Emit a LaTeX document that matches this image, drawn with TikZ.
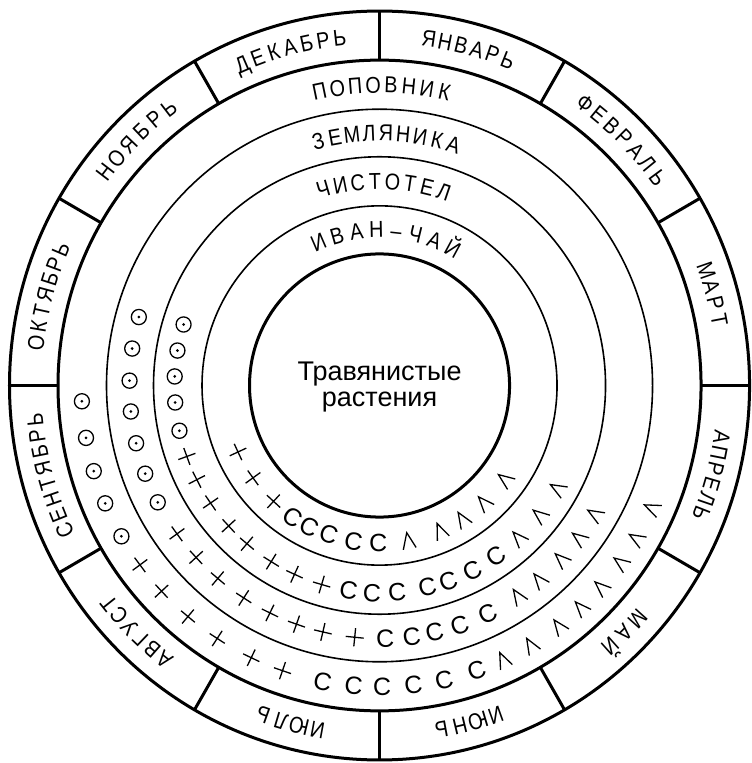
\documentclass[tikz,border=0pt]{standalone}
\usepackage{fontspec}
\setmainfont{Liberation Sans}

% letters of a word set one by one round the rings
\newcommand{\ringlabel}[6]{%
  \foreach \ch [count=\i] in {#6} {
    \pgfmathsetmacro{\ang}{#3+(#5+1)/2*#4-\i*#4}
    \node[lettr, rotate=\ang-90, xscale=0.86] (#1\i) at (\ang:#2) {\ch};
  }}

\begin{document}
\begin{tikzpicture}[x=1pt, y=1.012pt,
    thickline/.style={line width=3pt},
    ringline/.style={line width=1.6pt},
    symline/.style={line width=1.3pt},
    lettr/.style={font=\fontsize{23}{23}\selectfont, anchor=base, inner sep=0pt},
    csym/.style={font=\fontsize{25}{25}\selectfont, inner sep=0pt},
    midtext/.style={font=\fontsize{27}{27}\selectfont, anchor=base, inner sep=0pt}]
    \path[use as bounding box, fill=white] (-379.5,-373) rectangle (371.5,380.9);

    % Rings
    \draw[thickline] (0,0) circle (370);
    \draw[thickline] (0,0) circle (321.5);
    \foreach \r in {273,226,177.5}
        \draw[ringline] (0,0) circle (\r);
    \draw[thickline] (0,0) circle (130);

    % Month dividers
    \foreach \a in {0,30,...,330}
        \draw[thickline] (\a:321.5) -- (\a:370);

    % Months
    \ringlabel{jan}{338}{75}{2.7}{6}{Я,Н,В,А,Р,Ь}
    \ringlabel{feb}{338}{45}{2.85}{7}{Ф,Е,В,Р,А,Л,Ь}
    \ringlabel{mar}{338}{15}{2.75}{4}{М,А,Р,Т}
    \ringlabel{apr}{338}{-15}{2.6}{6}{А,П,Р,Е,Л,Ь}
    \ringlabel{may}{338}{-45}{3.2}{3}{М,А,Й}
    \ringlabel{jun}{338}{-75}{3.1}{4}{И,Ю,Н,Ь}
    \ringlabel{jul}{338}{-105}{3.1}{4}{И,Ю,Л,Ь}
    \ringlabel{aug}{338}{-135}{2.6}{6}{А,В,Г,У,С,Т}
    \ringlabel{sep}{338}{-165}{2.7}{8}{С,Е,Н,Т,Я,Б,Р,Ь}
    \ringlabel{oct}{338}{165}{2.65}{7}{О,К,Т,Я,Б,Р,Ь}
    \ringlabel{nov}{338}{135}{3.0}{6}{Н,О,Я,Б,Р,Ь}
    \ringlabel{dec}{338}{105}{2.8}{7}{Д,Е,К,А,Б,Р,Ь}

    % Plants
    \ringlabel{pop}{289}{89.5}{3.47}{8}{П,О,П,О,В,Н,И,К}
    \ringlabel{zem}{241.5}{88.5}{3.94}{9}{З,Е,М,Л,Я,Н,И,К,А}
    \ringlabel{chi}{194}{88.8}{4.97}{8}{Ч,И,С,Т,О,Т,Е,Л}
    \ringlabel{iva}{146}{87.5}{7.4}{8}{И,В,А,Н,–,Ч,А,Й}

    % Centre
    \node[midtext] (herb1) at (0,5.4) {Травянистые};
    \node[midtext] (herb2) at (0,-21.2) {растения};

    % Ring A
    \foreach \a in {183,190,196.5,203,210} {
        \draw[symline] (\a:298) circle (7.5);
        \fill (\a:298) circle (1.5);
    }
    \foreach \a in {216.5,223,230,237,244.5,251}
        \draw[symline, shift={(\a:298)}, rotate=\a+90] (-9,0) -- (9,0) (0,-9) -- (0,9);
    \foreach \a in {259,265,270.5,276.5,282.5,289}
        \node[csym, rotate=\a+90] at (\a:298) {С};
    \foreach \a in {294.5,300.5,307,312.5,318,324,329.5,336}
        \draw[symline, shift={(\a:298)}, rotate=\a+90] (-6.5,-8) -- (0,8) -- (6.5,-8);

    % Ring B
    \foreach \a in {164.3,171.6,178.9,185.9,193.2,200.4,207.5} {
        \draw[symline] (\a:250) circle (7.5);
        \fill (\a:250) circle (1.5);
    }
    \foreach \a in {215.9,222.8,229.7,237.1,244,250.6,256.9,264.3}
        \draw[symline, shift={(\a:250)}, rotate=\a+90] (-9,0) -- (9,0) (0,-9) -- (0,9);
    \foreach \a in {271.3,277.4,282.7,288.7,295.6}
        \node[csym, rotate=\a+90] at (\a:250) {С};
    \foreach \a in {303.6,309.7,316.6,322.9,329.4}
        \draw[symline, shift={(\a:250)}, rotate=\a+90] (-6.5,-8) -- (0,8) -- (6.5,-8);

    % Ring C
    \foreach \a in {162.9,170.3,177.5,184.7,192.6} {
        \draw[symline] (\a:205) circle (7.5);
        \fill (\a:205) circle (1.5);
    }
    \foreach \a in {200,207,214.5,222.6,229.7,238.1,245.5,253.6}
        \draw[symline, shift={(\a:205)}, rotate=\a+90] (-9,0) -- (9,0) (0,-9) -- (0,9);
    \foreach \a in {261.3,267.9,274.9,283.5,289.6,296.9,304.5}
        \node[csym, rotate=\a+90] at (\a:205) {С};
    \foreach \a in {312.7,321.3,330.2}
        \draw[symline, shift={(\a:205)}, rotate=\a+90] (-6.5,-8) -- (0,8) -- (6.5,-8);

    % Ring D
    \foreach \a in {204.9,215.8,227.2}
        \draw[symline, shift={(\a:156)}, rotate=\a+90] (-9,0) -- (9,0) (0,-9) -- (0,9);
    \foreach \a in {236.4,243.2,251,260.4,269.5}
        \node[csym, rotate=\a+90] at (\a:156) {С};
    \foreach \a in {280.6,292.9,302.1,312,323.5}
        \draw[symline, shift={(\a:156)}, rotate=\a+90] (-6.5,-8) -- (0,8) -- (6.5,-8);
\end{tikzpicture}
\end{document}
